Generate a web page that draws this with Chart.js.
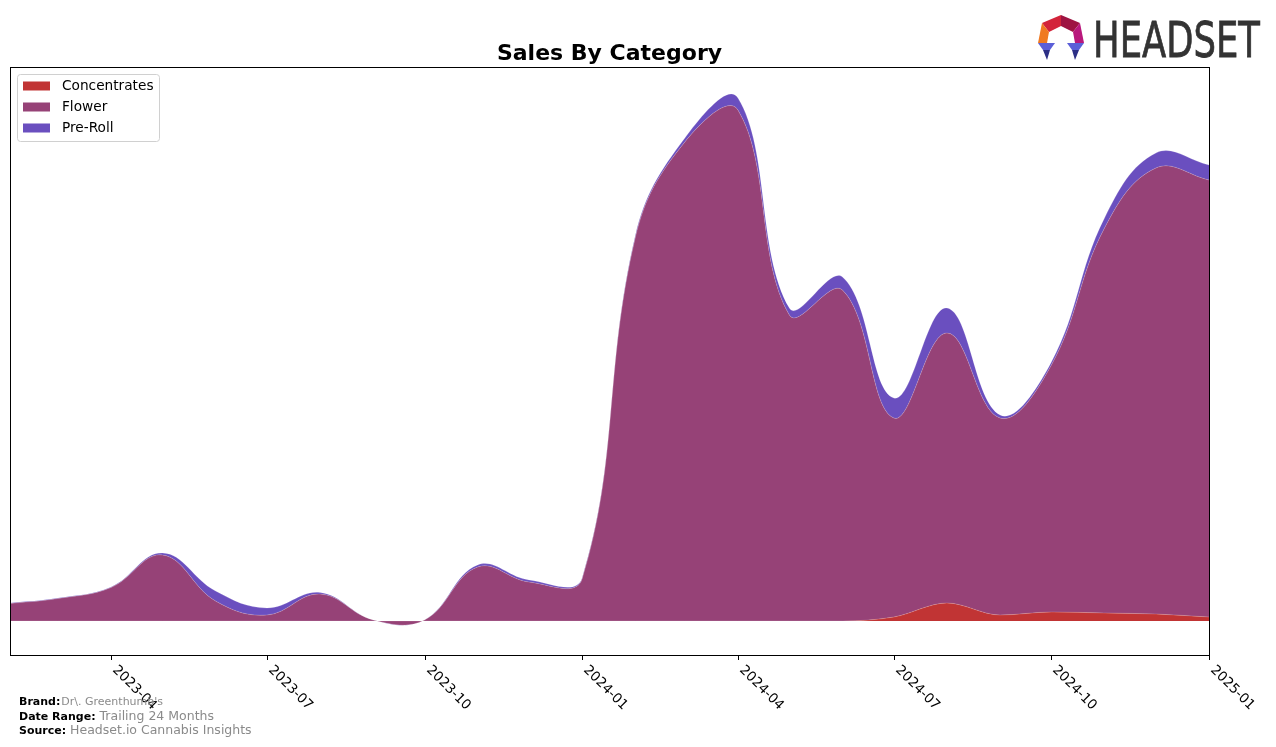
<!DOCTYPE html>
<html>
<head>
<meta charset="utf-8">
<script src="https://cdn.jsdelivr.net/npm/chart.js@4.4.1/dist/chart.umd.min.js"></script>
<style>
  html, body { margin: 0; padding: 0; background: #ffffff; }
  #wrap { width: 1276px; height: 747px; position: relative; }
</style>
</head>
<body>
<div id="wrap"><canvas id="c" width="1276" height="747"></canvas></div>
<script>
// ---- Data (relative sales units) ----
const months = ['2023-02','2023-03','2023-04','2023-05','2023-06','2023-07','2023-08','2023-09','2023-10','2023-11','2023-12',
                '2024-01','2024-02','2024-03','2024-04','2024-05','2024-06','2024-07','2024-08','2024-09','2024-10','2024-11','2024-12','2025-01'];
const concentrates = [0,0,0,0,0,0,0,0,0,0,0, 0,0,0,0,0,0,4,18,6,9,8,7,4];
const flower       = [17.5,22.5,33.5,66,20,6,27,1,1,54,39, 42,383,479,511,306,331,199,270,197,247,385,446,437];
const preRoll      = [0.5,0.5,0.5,2,10,7,1.5,0,0,2,2, 1,2,4,12,7,13,20,25,3,3,10,15,15];
const tickLabels   = ['2023-04','2023-07','2023-10','2024-01','2024-04','2024-07','2024-10','2025-01'];
const seriesNames  = ['Concentrates','Flower','Pre-Roll'];
const seriesColors = ['#c13434','#964277','#6a4fbf'];

const brandText = "Dr\\. Greenthumb's";
const dateRangeText = 'Trailing 24 Months';
const sourceText = 'Headset.io Cannabis Insights';

// ---- helpers ----
const DAY = 86400000;
const origin = Date.UTC(2023, 1, 1);
function dayOf(ym) { const [y, m] = ym.split('-').map(Number); return (Date.UTC(y, m - 1, 1) - origin) / DAY; }
const xs = months.map(dayOf);
const toPts = arr => arr.map((v, i) => ({ x: xs[i], y: v }));

const FONT = '"DejaVu Sans", "Liberation Sans", sans-serif';

const decor = {
  id: 'decor',
  afterDraw(chart) {
    const ctx = chart.ctx;
    const a = chart.chartArea;
    const xsc = chart.scales.x;
    ctx.save();
    // spines
    ctx.strokeStyle = '#000';
    ctx.lineWidth = 1;
    ctx.strokeRect(Math.round(a.left) + 0.5, Math.round(a.top) + 0.5, Math.round(a.right - a.left), Math.round(a.bottom - a.top));
    // ticks + labels
    ctx.font = '13.5px ' + FONT;
    ctx.fillStyle = '#000';
    tickLabels.forEach(t => {
      const px = Math.round(xsc.getPixelForValue(dayOf(t))) + 0.5;
      ctx.beginPath();
      ctx.moveTo(px, a.bottom);
      ctx.lineTo(px, a.bottom + 5);
      ctx.stroke();
      ctx.save();
      ctx.translate(px + 3, a.bottom + 13);
      ctx.rotate(Math.PI / 4);
      ctx.textAlign = 'left';
      ctx.textBaseline = 'middle';
      ctx.fillText(t, 0, 0);
      ctx.restore();
    });
    // title
    ctx.font = 'bold 22px ' + FONT;
    ctx.textAlign = 'center';
    ctx.textBaseline = 'alphabetic';
    ctx.fillText('Sales By Category', (a.left + a.right) / 2, 60);
    // legend
    const lx = a.left + 7, ly = a.top + 7, lw = 142, lh = 67;
    ctx.beginPath();
    if (ctx.roundRect) ctx.roundRect(lx + 0.5, ly + 0.5, lw, lh, 3); else ctx.rect(lx + 0.5, ly + 0.5, lw, lh);
    ctx.fillStyle = 'rgba(255,255,255,0.8)';
    ctx.fill();
    ctx.strokeStyle = '#d0d0d0';
    ctx.stroke();
    ctx.font = '13.7px ' + FONT;
    ctx.textAlign = 'left';
    ctx.textBaseline = 'middle';
    seriesNames.forEach((n, i) => {
      const cy = ly + 12 + i * 21;
      ctx.fillStyle = seriesColors[i];
      ctx.fillRect(lx + 6, cy - 4.5, 27, 9);
      ctx.fillStyle = '#000';
      ctx.fillText(n, lx + 45, cy + 0.5);
    });
    // footer
    const rows = [['Brand:', brandText, 11], ['Date Range:', dateRangeText, 12.5], ['Source:', sourceText, 12.5]];
    rows.forEach((r, i) => {
      const y = 705 + i * 14.5;
      ctx.font = 'bold 11px ' + FONT;
      ctx.fillStyle = '#000';
      ctx.textBaseline = 'alphabetic';
      ctx.fillText(r[0], 19, y);
      const w = ctx.measureText(r[0]).width;
      ctx.font = r[2] + 'px ' + FONT;
      ctx.fillStyle = '#8a8a8a';
      ctx.fillText(r[1], 19 + w + (i === 0 ? 1 : 4), y);
    });
    // logo icon
    const poly = (pts, col) => { ctx.beginPath(); ctx.moveTo(pts[0][0], pts[0][1]); pts.slice(1).forEach(p => ctx.lineTo(p[0], p[1])); ctx.closePath(); ctx.fillStyle = col; ctx.fill(); };
    poly([[1061,15],[1042,23],[1049,32],[1061,26]], '#d3243a');
    poly([[1061,15],[1080,23],[1073,32],[1061,26]], '#9e1442');
    poly([[1042,23],[1038,43],[1047,43],[1049,32]], '#f07a22');
    poly([[1080,23],[1084,43],[1075,43],[1073,32]], '#b9187c');
    poly([[1038,43],[1055,43],[1050,50],[1043,50]], '#5b5fd8');
    poly([[1043,50],[1050,50],[1047,60]], '#2c2f86');
    poly([[1067,43],[1084,43],[1079,50],[1072,50]], '#5b5fd8');
    poly([[1072,50],[1079,50],[1075,60]], '#2c2f86');
    // logo text
    ctx.font = '500 50px ' + FONT;
    ctx.fillStyle = '#333333';
    ctx.textAlign = 'left';
    ctx.textBaseline = 'alphabetic';
    const tw = ctx.measureText('HEADSET').width;
    ctx.save();
    ctx.translate(1093, 57);
    ctx.scale(167 / tw, 1);
    ctx.lineWidth = 0.8;
    ctx.strokeStyle = '#333333';
    ctx.fillText('HEADSET', 0, 0);
    ctx.strokeText('HEADSET', 0, 0);
    ctx.restore();
    ctx.restore();
  }
};

const mk = (label, data, color, fill, mode) => ({
  label, data: toPts(data), backgroundColor: color, borderColor: 'rgba(255,255,255,0.25)', borderWidth: 0.7,
  fill, pointRadius: 0, pointHoverRadius: 0, tension: 0.4, cubicInterpolationMode: mode || 'default'
});

new Chart(document.getElementById('c'), {
  type: 'line',
  data: {
    datasets: [
      mk(seriesNames[0], concentrates, seriesColors[0], 'origin', 'monotone'),
      mk(seriesNames[1], flower, seriesColors[1], '-1'),
      mk(seriesNames[2], preRoll, seriesColors[2], '-1')
    ]
  },
  options: {
    responsive: false,
    animation: false,
    events: [],
    layout: { padding: { left: 10, right: 67, top: 67, bottom: 92 } },
    plugins: { legend: { display: false }, title: { display: false }, tooltip: { enabled: false } },
    scales: {
      x: { type: 'linear', min: 0, max: dayOf('2025-01'), display: false },
      y: { stacked: true, min: -34, max: 554, display: false }
    }
  },
  plugins: [decor]
});
</script>
</body>
</html>
